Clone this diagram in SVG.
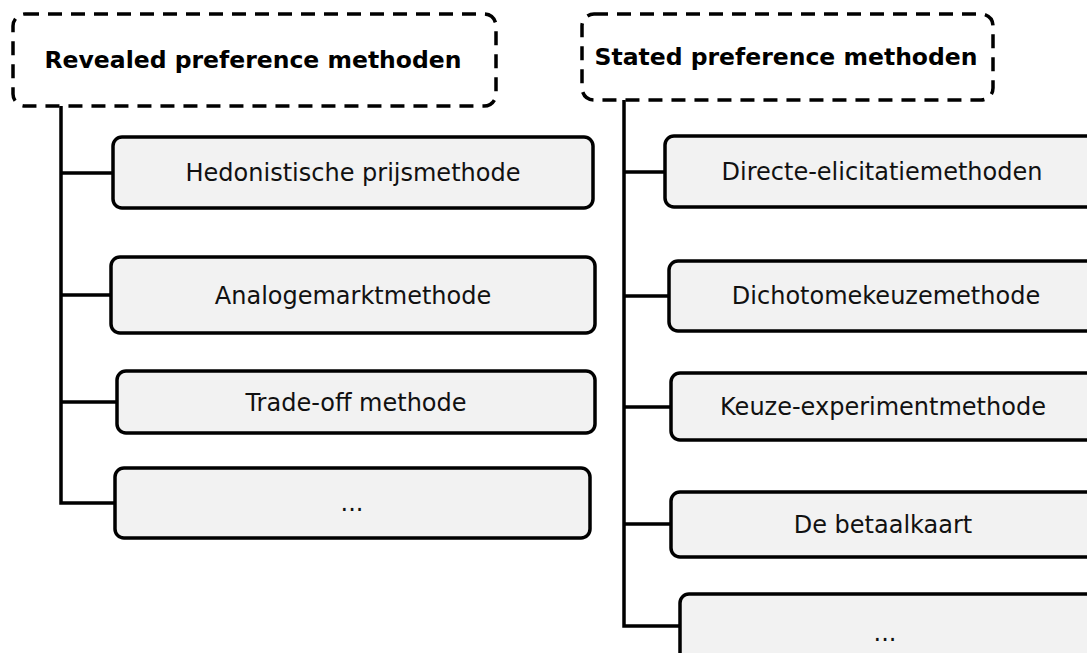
<svg xmlns="http://www.w3.org/2000/svg" width="1087" height="653" viewBox="0 0 1087 653">
<style>
.hdr{fill:#ffffff;stroke:#000;stroke-width:3.5;stroke-dasharray:14 9}
.box{fill:#f2f2f2;stroke:#000;stroke-width:3.5}
.ht{font-family:"DejaVu Sans",Verdana,sans-serif;font-weight:bold;font-size:23.5px;fill:#000;text-anchor:middle}
.bt{font-family:"DejaVu Sans",Verdana,sans-serif;font-size:24px;fill:#111;text-anchor:middle}
.con{fill:none;stroke:#000;stroke-width:3.5;stroke-linejoin:miter}
</style>
<rect width="1087" height="653" fill="#ffffff"/>
<g id="connectors">
<path class="con" d="M61 106 V503 H115 M61 173 H113 M61 295 H111 M61 402 H117"/>
<path class="con" d="M624 100 V626 H680 M624 172 H665 M624 296 H669 M624 407 H671 M624 524 H671"/>
</g>
<g id="revealed">
<rect class="hdr" x="13" y="14" width="483" height="92" rx="12"/>
<text class="ht" x="253" y="68">Revealed preference methoden</text>
</g>
<g id="stated">
<rect class="hdr" x="582" y="14" width="411" height="86" rx="12"/>
<text class="ht" x="786" y="65">Stated preference methoden</text>
</g>
<g id="hedonistische">
<rect class="box" x="113" y="137" width="480" height="71" rx="9"/>
<text class="bt" x="353" y="181">Hedonistische prijsmethode</text>
</g>
<g id="analogemarkt">
<rect class="box" x="111" y="257" width="484" height="76" rx="9"/>
<text class="bt" x="353" y="304">Analogemarktmethode</text>
</g>
<g id="tradeoff">
<rect class="box" x="117" y="371" width="478" height="62" rx="9"/>
<text class="bt" x="356" y="411">Trade-off methode</text>
</g>
<g id="left-more">
<rect class="box" x="115" y="468" width="475" height="70" rx="9"/>
<text class="bt" x="352" y="511">...</text>
</g>
<g id="directe">
<rect class="box" x="665" y="136" width="440" height="71" rx="9"/>
<text class="bt" x="882" y="180">Directe-elicitatiemethoden</text>
</g>
<g id="dichotome">
<rect class="box" x="669" y="261" width="440" height="70" rx="9"/>
<text class="bt" x="886" y="304">Dichotomekeuzemethode</text>
</g>
<g id="keuze">
<rect class="box" x="671" y="373" width="440" height="67" rx="9"/>
<text class="bt" x="883" y="415">Keuze-experimentmethode</text>
</g>
<g id="betaalkaart">
<rect class="box" x="671" y="492" width="440" height="65" rx="9"/>
<text class="bt" x="883" y="533">De betaalkaart</text>
</g>
<g id="right-more">
<rect class="box" x="680" y="594" width="440" height="80" rx="9"/>
<text class="bt" x="885" y="641">...</text>
</g>
</svg>
